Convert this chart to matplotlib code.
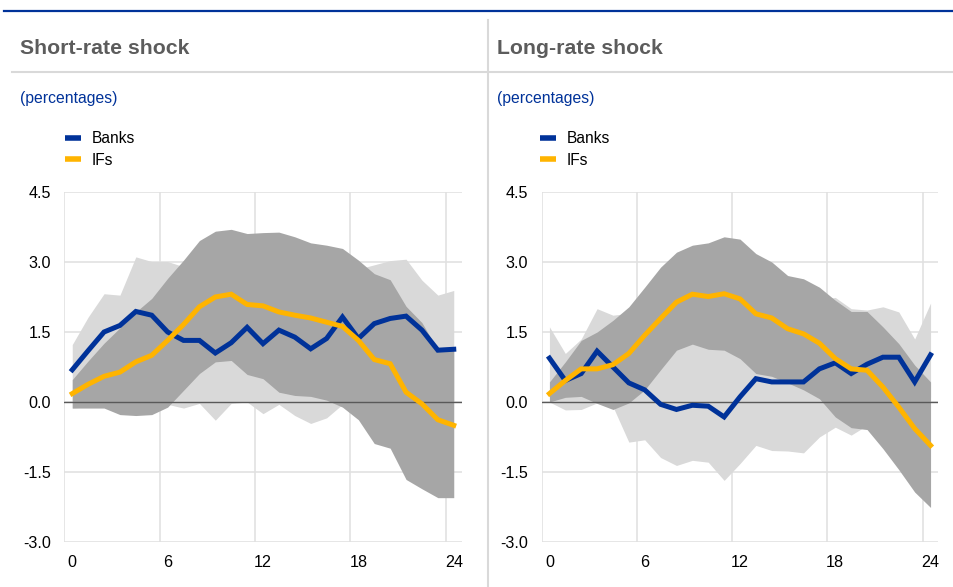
import matplotlib
matplotlib.use("Agg")
import matplotlib.pyplot as plt
from matplotlib.lines import Line2D

plt.rcParams["font.family"] = ["Liberation Sans", "DejaVu Sans"]

BLUE = "#003299"
YELLOW = "#ffb400"
LIGHT = "#d9d9d9"
DARK = "#a6a6a6"
GRID = "#e1e1e1"

horizons = list(range(25))
x_ticks = [0, 6, 12, 18, 24]
y_ticks = [-3.0, -1.5, 0.0, 1.5, 3.0, 4.5]
titles = ["Short-rate shock", "Long-rate shock"]
series_names = ["Banks", "IFs"]

# short-rate shock
short_banks = [0.69, 1.10, 1.50, 1.64, 1.94, 1.86, 1.50, 1.32, 1.32, 1.05, 1.27, 1.60, 1.25,
               1.54, 1.39, 1.14, 1.36, 1.82, 1.36, 1.68, 1.79, 1.84, 1.54, 1.11, 1.13]
short_ifs = [0.18, 0.38, 0.55, 0.64, 0.86, 1.00, 1.32, 1.66, 2.04, 2.25, 2.31, 2.09, 2.06,
             1.93, 1.86, 1.80, 1.71, 1.62, 1.32, 0.91, 0.82, 0.21, -0.04, -0.38, -0.50]
short_banks_lo = [-0.13, -0.10, -0.10, 0.00, 0.10, 0.20, -0.05, -0.13, -0.03, -0.39, -0.03, 0.00, -0.25,
                  -0.05, -0.29, -0.46, -0.34, -0.05, 0.20, 0.50, 0.60, 0.50, 0.30, 0.10, 0.00]
short_banks_hi = [1.23, 1.82, 2.32, 2.29, 3.11, 3.01, 3.01, 2.90, 2.80, 2.60, 2.70, 2.90, 2.60,
                  2.80, 2.70, 2.50, 2.60, 3.00, 2.85, 2.94, 3.03, 3.06, 2.61, 2.29, 2.39]
short_ifs_lo = [-0.13, -0.13, -0.13, -0.27, -0.29, -0.27, -0.11, 0.25, 0.61, 0.86, 0.89, 0.59, 0.50,
                0.21, 0.14, 0.12, 0.04, -0.11, -0.38, -0.89, -0.99, -1.66, -1.86, -2.05, -2.05]
short_ifs_hi = [0.48, 0.88, 1.26, 1.59, 1.93, 2.22, 2.65, 3.04, 3.46, 3.66, 3.70, 3.61, 3.63,
                3.64, 3.54, 3.41, 3.36, 3.29, 3.04, 2.75, 2.62, 2.05, 1.70, 1.11, 1.11]

# long-rate shock
long_banks = [0.94, 0.46, 0.61, 1.09, 0.75, 0.41, 0.26, -0.05, -0.16, -0.07, -0.09, -0.32, 0.11,
              0.50, 0.43, 0.43, 0.43, 0.71, 0.84, 0.61, 0.81, 0.96, 0.96, 0.43, 1.01]
long_ifs = [0.18, 0.46, 0.71, 0.71, 0.80, 1.04, 1.43, 1.79, 2.14, 2.31, 2.26, 2.32, 2.21,
            1.89, 1.80, 1.57, 1.46, 1.26, 0.93, 0.71, 0.68, 0.32, -0.11, -0.57, -0.93]
long_banks_lo = [0.00, -0.17, -0.16, -0.02, -0.10, -0.86, -0.81, -1.19, -1.36, -1.25, -1.29, -1.68, -1.32,
                 -0.93, -1.04, -1.05, -1.09, -0.75, -0.54, -0.71, -0.50, -0.30, -0.10, 0.00, 0.10]
long_banks_hi = [1.61, 1.04, 1.35, 2.00, 1.86, 1.90, 1.60, 1.40, 1.30, 1.40, 1.40, 1.20, 1.50,
                 1.90, 1.90, 1.90, 2.00, 2.20, 2.24, 2.00, 1.97, 2.04, 1.93, 1.35, 2.12]
long_ifs_lo = [0.00, 0.10, 0.12, -0.03, -0.16, -0.02, 0.26, 0.69, 1.11, 1.24, 1.13, 1.11, 0.93,
               0.61, 0.55, 0.41, 0.26, 0.07, -0.32, -0.55, -0.59, -1.00, -1.45, -1.93, -2.26]
long_ifs_hi = [0.43, 0.86, 1.32, 1.50, 1.75, 2.04, 2.46, 2.89, 3.21, 3.36, 3.41, 3.54, 3.49,
               3.18, 3.00, 2.71, 2.64, 2.46, 2.18, 1.94, 1.94, 1.61, 1.25, 0.79, 0.43]

panels = [
    (short_banks, short_ifs, short_banks_lo, short_banks_hi, short_ifs_lo, short_ifs_hi),
    (long_banks, long_ifs, long_banks_lo, long_banks_hi, long_ifs_lo, long_ifs_hi),
]

W, H = 954, 587


def fx(px):
    return px / W


def fy(py):
    return 1 - py / H


def draw_panel(ax, data):
    banks, ifs, b_lo, b_hi, i_lo, i_hi = data
    ax.fill_between(horizons, b_lo, b_hi, color=LIGHT, linewidth=0, zorder=1)
    ax.fill_between(horizons, i_lo, i_hi, color=DARK, linewidth=0, zorder=2)
    ax.axhline(0, color="#595959", linewidth=1.0, zorder=3)
    ax.plot(horizons, banks, color=BLUE, linewidth=3.6, zorder=4, solid_joinstyle="miter")
    ax.plot(horizons, ifs, color=YELLOW, linewidth=3.6, zorder=5, solid_joinstyle="miter")

    ax.set_xlim(-0.5, 24.5)
    ax.set_ylim(-3.0, 4.5)
    for g in [-0.5, 5.5, 11.5, 17.5, 23.5]:
        ax.axvline(g, color=GRID, linewidth=1.2, zorder=0)
    for g in y_ticks:
        ax.axhline(g, color=GRID, linewidth=1.2, zorder=0)
    ax.set_xticks(x_ticks)
    ax.set_yticks(y_ticks)
    ax.set_yticklabels([f"{v:.1f}" for v in y_ticks])
    ax.tick_params(length=0, labelsize=11.6, colors="#000000", pad=9.5)
    ax.tick_params(axis="x", pad=9.5)
    for s in ax.spines.values():
        s.set_visible(False)


fig = plt.figure(figsize=(W / 100, H / 100), dpi=100)

ax_left = fig.add_axes([fx(64.3), fy(542), fx(461.7) - fx(64.3), fy(192) - fy(542)])
ax_right = fig.add_axes([fx(541.5), fy(542), fx(938.5) - fx(541.5), fy(192) - fy(542)])

# header lines
fig.add_artist(Line2D([fx(4), 1], [fy(10.7), fy(10.7)], color=BLUE, linewidth=1.6))
fig.add_artist(Line2D([fx(12), 1], [fy(72.3), fy(72.3)], color=LIGHT, linewidth=1.5))
fig.add_artist(Line2D([fx(488), fx(488)], [fy(20), 0], color=LIGHT, linewidth=1.5))

for ax, data, title, x0, lx in zip([ax_left, ax_right], panels, titles, [20, 497], [65, 540]):
    draw_panel(ax, data)
    fig.text(fx(x0), fy(48), title, fontsize=15.3, fontweight="bold", color="#5c5c5c",
             va="center", ha="left")
    fig.text(fx(x0), fy(98), "(percentages)", fontsize=11.3, color=BLUE, va="center", ha="left")
    handles = [Line2D([], [], color=BLUE, linewidth=4.0, solid_capstyle="butt"),
               Line2D([], [], color=YELLOW, linewidth=4.0, solid_capstyle="butt")]
    fig.legend(handles, series_names, loc="upper left", bbox_to_anchor=(fx(lx), fy(131)),
               frameon=False, fontsize=11.2, handlelength=1.05, handletextpad=0.65,
               labelspacing=0.42, borderpad=0, borderaxespad=0)

fig.savefig("out.png", dpi=100)
